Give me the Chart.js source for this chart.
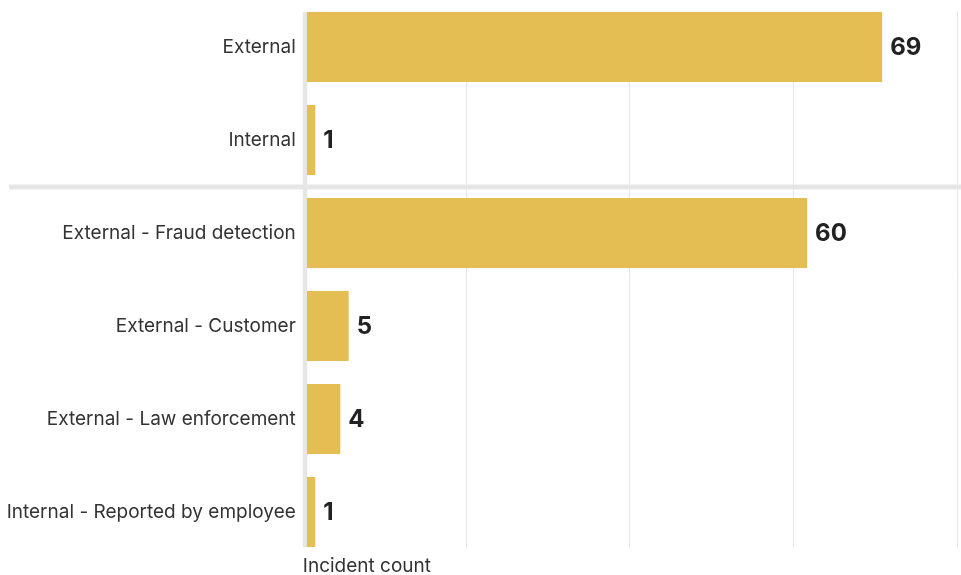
<!DOCTYPE html>
<html>
<head>
<meta charset="utf-8">
<script src="https://cdn.jsdelivr.net/npm/chart.js@4/dist/chart.umd.min.js"></script>
<style>
  html, body { margin: 0; padding: 0; background: #fff; }
  #wrap { width: 961px; height: 575px; }
</style>
</head>
<body>
<div id="wrap"><canvas id="incidentChart"></canvas></div>
<script>
// Incident detection source
const categories = [
    'External',
    'Internal',
    'External - Fraud detection',
    'External - Customer',
    'External - Law enforcement',
    'Internal - Reported by employee'
];
const incidentCounts = [69, 1, 60, 5, 4, 1];
const groupBreakAfter = 1; // separator drawn after this row index
const axisTitle = 'Incident count';

const barColor = '#e4be52';
const lineGrey = '#e5e6e5';

// Draws the grid, the axis bar, the group separator and the value labels
const decorations = {
    id: 'decorations',
    beforeDatasetsDraw(chart) {
        const ctx = chart.ctx;
        const x = chart.scales.x;
        const y = chart.scales.y;
        const bars = chart.getDatasetMeta(0).data;
        const top = bars[0].y - bars[0].height / 2;
        const last = bars[bars.length - 1];
        const bottom = last.y + last.height / 2;

        ctx.save();
        // light vertical grid
        ctx.strokeStyle = '#e6e6e6';
        ctx.lineWidth = 1;
        x.ticks.slice(1).forEach(t => {
            const px = Math.round(x.getPixelForValue(t.value)) - 0.5;
            ctx.beginPath();
            ctx.moveTo(px, top);
            ctx.lineTo(px, bottom);
            ctx.stroke();
        });
        // thick axis line
        ctx.fillStyle = lineGrey;
        ctx.fillRect(x.left, top, 4.5, bottom - top);
        // separator between the two groups
        const sepY = (y.getPixelForValue(groupBreakAfter) + y.getPixelForValue(groupBreakAfter + 1)) / 2;
        ctx.fillRect(9, sepY - 2, chart.width - 9, 5);
        ctx.restore();
    },
    afterDatasetsDraw(chart) {
        const ctx = chart.ctx;
        const bars = chart.getDatasetMeta(0).data;
        ctx.save();
        ctx.font = 'bold 24px Inter';
        ctx.fillStyle = '#222';
        ctx.textAlign = 'left';
        ctx.textBaseline = 'middle';
        bars.forEach((bar, i) => {
            ctx.fillText(String(incidentCounts[i]), bar.x + 8, bar.y + 1);
        });
        ctx.restore();
    }
};

Chart.defaults.font.family = 'Inter';

const ctx = document.getElementById('incidentChart').getContext('2d');
const incidentChart = new Chart(ctx, {
    type: 'bar',
    data: {
        labels: categories,
        datasets: [
            {
                data: incidentCounts,
                backgroundColor: barColor,
                borderWidth: 0,
                categoryPercentage: 1,
                barPercentage: 0.753
            }
        ]
    },
    options: {
        indexAxis: 'y',
        responsive: true,
        maintainAspectRatio: false,
        animation: false,
        layout: {
            padding: { top: 0.5, right: 3, bottom: 0, left: 0 }
        },
        scales: {
            x: {
                min: -0.5,
                max: 78.1,
                grid: { display: false, drawTicks: false },
                border: { display: false },
                ticks: { display: false },
                afterBuildTicks(scale) {
                    // four equal columns across the plot
                    const step = (scale.max - scale.min) / 4;
                    scale.ticks = [0, 1, 2, 3, 4].map(i => ({ value: scale.min + i * step }));
                },
                title: {
                    display: true,
                    text: axisTitle,
                    align: 'start',
                    color: '#333',
                    font: { size: 19, lineHeight: 0.87 },
                    padding: { top: 0, bottom: 0 }
                }
            },
            y: {
                grid: { display: false, drawTicks: false },
                border: { display: false },
                ticks: {
                    autoSkip: false,
                    color: '#333',
                    padding: 7,
                    font: { size: 19 }
                },
                afterFit(scale) {
                    scale.width = 302.8;
                    scale.paddingTop = 0;
                    scale.paddingBottom = 0;
                }
            }
        },
        plugins: {
            legend: { display: false },
            tooltip: { enabled: false }
        }
    },
    plugins: [decorations]
});
</script>
</body>
</html>
